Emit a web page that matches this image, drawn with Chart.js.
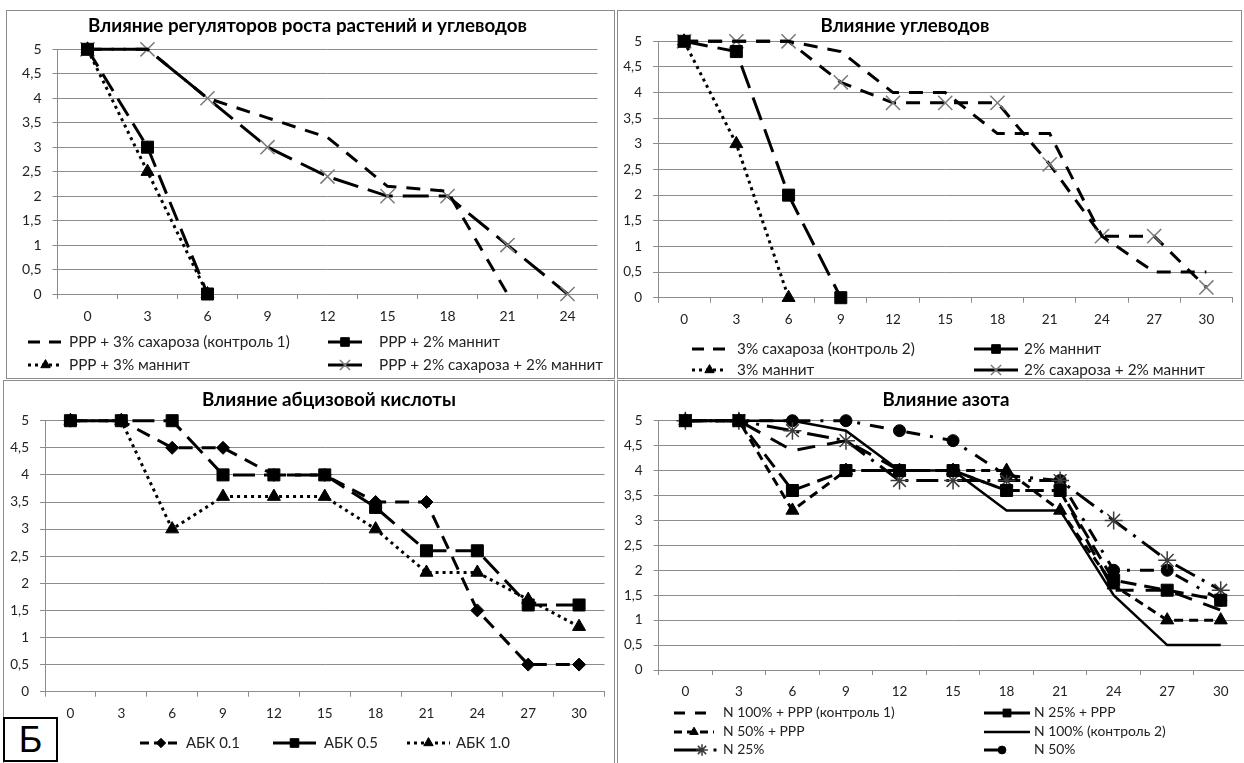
<!DOCTYPE html>
<html><head><meta charset="utf-8">
<script src="https://cdn.jsdelivr.net/npm/chart.js@4.4.1/dist/chart.umd.min.js"></script>
<style>
html,body{margin:0;padding:0;background:#fff;overflow:hidden;width:1244px;height:763px;position:relative;}
.frame{position:absolute;border:1px solid #8c8c8c;box-sizing:border-box;}
canvas{position:absolute;}
#bx{position:absolute;left:3px;top:717px;width:55px;height:45px;border:2px solid #000;box-sizing:border-box;background:#fff;
font:36px "Liberation Sans",Arial,sans-serif;line-height:41px;text-align:center;color:#000;}
</style></head><body>
<div class="frame" style="left:6px;top:10px;width:609px;height:369px"></div>
<div class="frame" style="left:617px;top:10px;width:625px;height:369px"></div>
<div class="frame" style="left:3px;top:380px;width:612px;height:390px"></div>
<div class="frame" style="left:617px;top:380px;width:640px;height:390px"></div>
<canvas id="c1" width="608" height="368" style="left:6px;top:10px"></canvas>
<canvas id="c2" width="626" height="368" style="left:618px;top:10px"></canvas>
<canvas id="c3" width="611" height="383" style="left:3px;top:380px"></canvas>
<canvas id="c4" width="640" height="383" style="left:618px;top:380px"></canvas>
<div id="bx">Б</div>
<script>
// ---------- DATA ----------
const days24 = ['0','3','6','9','12','15','18','21','24'];
const days30 = ['0','3','6','9','12','15','18','21','24','27','30'];

// Panel 1: Влияние регуляторов роста растений и углеводов
const p1Labels = ['PPP + 3% сахароза (контроль 1)','PPP + 2% маннит','PPP + 3% маннит','PPP + 2% сахароза + 2% маннит'];
const p1Sucrose3 = [5,5,4,3.6,3.2,2.2,2.1,0,null];
const p1Mannit2  = [5,3,0,null,null,null,null,null,null];
const p1Mannit3  = [5,2.5,0,null,null,null,null,null,null];
const p1SucMan   = [5,5,4,3,2.4,2,2,1,0];

// Panel 2: Влияние углеводов
const p2Labels = ['3% сахароза (контроль 2)','2% маннит','3% маннит','2% сахароза + 2% маннит'];
const p2Sucrose3 = [5,5,5,4.8,4,4,3.2,3.2,1.2,0.5,0.5];
const p2Mannit2  = [5,4.8,2,0,null,null,null,null,null,null,null];
const p2Mannit3  = [5,3,0,null,null,null,null,null,null,null,null];
const p2SucMan   = [5,5,5,4.2,3.8,3.8,3.8,2.6,1.2,1.2,0.2];

// Panel 3: Влияние абцизовой кислоты
const p3Labels = ['АБК 0.1','АБК 0.5','АБК 1.0'];
const abk01 = [5,5,4.5,4.5,4,4,3.5,3.5,1.5,0.5,0.5];
const abk05 = [5,5,5,4,4,4,3.4,2.6,2.6,1.6,1.6];
const abk10 = [5,5,3,3.6,3.6,3.6,3,2.2,2.2,1.7,1.2];

// Panel 4: Влияние азота
const p4Labels = ['N 100% + PPP (контроль 1)','N 25% + PPP','N 50% + PPP','N 100% (контроль 2)','N 25%','N 50%'];
const n100ppp = [5,5,4.4,4.6,4,4,3.6,3.6,1.6,1.6,1.2];
const n25ppp  = [5,5,3.6,4,4,4,3.6,3.6,1.8,1.6,1.4];
const n50ppp  = [5,5,3.2,4,4,4,4,3.2,1.7,1,1];
const n100    = [5,5,5,4.8,4,4,3.2,3.2,1.5,0.5,0.5];
const n25     = [5,5,4.8,4.6,3.8,3.8,3.8,3.8,3,2.2,1.6];
const n50     = [5,5,5,5,4.8,4.6,3.9,3.8,2,2,1.4];

const titles = ['Влияние регуляторов роста растений и углеводов','Влияние углеводов','Влияние абцизовой кислоты','Влияние азота'];

// ---------- STYLES ----------
const FAM = 'Lato, "Open Sans", sans-serif';
const SQ  = {pointStyle:'rect', pointRadius:8.5};
const TRI = {pointStyle:'triangle', pointRadius:7.5};
const XM  = {pointStyle:'crossRot', pointRadius:10, pointBorderColor:'#7a7a7a', pointBorderWidth:1.5};
const DIA = {pointStyle:'rectRot', pointRadius:6.5};
const CIR = {pointStyle:'circle', pointRadius:6};
const STAR= {pointStyle:'star', pointRadius:9, pointBorderColor:'#3a3a3a', pointBorderWidth:1.5};

function ds(label, data, dash, width, marker){
  return Object.assign({label, data, borderColor:'#000', backgroundColor:'#000', borderWidth:width,
    borderDash:dash, borderCapStyle:'butt', tension:0, fill:false, clip:false, spanGaps:false,
    pointRadius:0, pointHoverRadius:0, pointBackgroundColor:'#000', pointBorderColor:'#000', pointBorderWidth:1}, marker||{});
}

function fitSize(ctx, text, weight, target){
  ctx.font = weight+' 20px '+FAM;
  return 20*target/ctx.measureText(text).width;
}

function makeDecor(cfg){
  return {
    id:'decor',
    afterDraw(chart){
      const ctx = chart.ctx;
      ctx.save();
      const ts = fitSize(ctx, cfg.title, 'bold', cfg.titleW);
      ctx.font = 'bold '+ts.toFixed(2)+'px '+FAM;
      ctx.fillStyle = '#000'; ctx.textAlign='center'; ctx.textBaseline='middle';
      ctx.fillText(cfg.title, cfg.titleX, cfg.titleY);
      const ls = fitSize(ctx, cfg.legRef, 'normal', cfg.legRefW);
      const mk = cfg.mk || 0.72;
      cfg.items.forEach(it=>{
        const d = chart.data.datasets[it.ds];
        ctx.save();
        ctx.strokeStyle = d.borderColor; ctx.lineWidth = d.borderWidth; ctx.lineCap='butt';
        ctx.setLineDash(it.dash || d.borderDash || []);
        ctx.beginPath(); ctx.moveTo(it.x0, it.y); ctx.lineTo(it.x1, it.y); ctx.stroke();
        ctx.restore();
        if (d.pointRadius > 0){
          ctx.save();
          ctx.fillStyle = d.pointBackgroundColor; ctx.strokeStyle = d.pointBorderColor; ctx.lineWidth = d.pointBorderWidth;
          Chart.helpers.drawPoint(ctx, {pointStyle:d.pointStyle, radius:d.pointRadius*mk, rotation:0, borderWidth:d.pointBorderWidth}, it.mx || (it.x0+it.x1)/2, it.y);
          ctx.restore();
        }
        if (it.dot){ ctx.fillStyle='#000'; ctx.fillRect(it.dot-1.5, it.y-1.5, 3, 3); }
        ctx.font = ls.toFixed(2)+'px '+FAM;
        ctx.fillStyle = '#222'; ctx.textAlign='left'; ctx.textBaseline='middle';
        ctx.fillText(d.label, it.tx, it.y);
      });
      ctx.restore();
    }
  };
}

function makeChart(id, labels, datasets, area, tickSize, decor){
  const cv = document.getElementById(id);
  const W = cv.width, H = cv.height;
  return new Chart(cv, {
    type:'line',
    data:{labels, datasets},
    plugins:[makeDecor(decor)],
    options:{
      responsive:false, animation:false, devicePixelRatio:1,
      events:[],
      layout:{padding:{left:0, top:area.top, right:W-area.right, bottom:0}},
      plugins:{legend:{display:false}, title:{display:false}, tooltip:{enabled:false}},
      scales:{
        x:{type:'category', offset:true,
          grid:{display:true, drawOnChartArea:false, drawTicks:true, tickLength:5, offset:true, color:'#8c8c8c'},
          border:{display:true, color:'#8c8c8c', width:1},
          ticks:{font:{family:FAM, size:tickSize}, color:'#222', padding:area.xPad, maxRotation:0, autoSkip:false},
          afterFit(s){ s.height = H - area.bottom; }},
        y:{min:0, max:5,
          grid:{color:'#8c8c8c', lineWidth:1, tickLength:5, drawTicks:true},
          border:{display:true, color:'#8c8c8c', width:1},
          ticks:{stepSize:0.5, font:{family:FAM, size:tickSize}, color:'#222', padding:area.yPad,
            callback:v=>String(v).replace('.',',')},
          afterFit(s){ s.width = area.left; }}
      }
    }
  });
}

// Panel 1
makeChart('c1', days24, [
  ds(p1Labels[0], p1Sucrose3, [14,10], 3),
  ds(p1Labels[1], p1Mannit2, [20,9], 3, SQ),
  ds(p1Labels[2], p1Mannit3, [3,4], 3, TRI),
  ds(p1Labels[3], p1SucMan, [26,10], 3, XM)
], {left:51.5, right:591.5, top:39.3, bottom:284, xPad:9, yPad:11}, 14, {
  title:titles[0], titleW:439, titleX:301.5, titleY:16, legRef:p1Labels[3], legRefW:224,
  items:[
    {ds:0, x0:22, x1:57, y:332, tx:63, dash:[12,9]},
    {ds:1, x0:322, x1:356, y:332, tx:373, dash:[]},
    {ds:2, x0:22, x1:57, y:355, tx:63},
    {ds:3, x0:322, x1:356, y:355, tx:373, dash:[]}
  ]});

// Panel 2
makeChart('c2', days30, [
  ds(p2Labels[0], p2Sucrose3, [14,10], 3),
  ds(p2Labels[1], p2Mannit2, [24,10], 3, SQ),
  ds(p2Labels[2], p2Mannit3, [3,4], 3, TRI),
  ds(p2Labels[3], p2SucMan, [14,10], 3, XM)
], {left:40, right:615, top:31.3, bottom:287.7, xPad:9, yPad:11}, 13.5, {
  title:titles[1], titleW:169, titleX:287, titleY:16, legRef:p2Labels[3], legRefW:181,
  items:[
    {ds:0, x0:74, x1:109, y:339, tx:119, dash:[12,9]},
    {ds:1, x0:356, x1:400, y:339, tx:406, dash:[]},
    {ds:2, x0:74, x1:109, y:360, tx:119},
    {ds:3, x0:356, x1:400, y:360, tx:406, dash:[]}
  ]});

// Panel 3
makeChart('c3', days30, [
  ds(p3Labels[0], abk01, [14,9], 3, DIA),
  ds(p3Labels[1], abk05, [22,9], 3, SQ),
  ds(p3Labels[2], abk10, [3,4], 3, TRI)
], {left:42, right:607, top:40.7, bottom:311.7, xPad:9, yPad:11}, 13.5, {
  title:titles[2], titleW:254, titleX:326, titleY:20, legRef:p3Labels[2], legRefW:54,
  items:[
    {ds:0, x0:137, x1:179, y:363, tx:183, dash:[9,5]},
    {ds:1, x0:270, x1:313, y:363, tx:321, dash:[]},
    {ds:2, x0:404, x1:447, y:363, tx:453}
  ]});

// Panel 4
makeChart('c4', days30, [
  ds(p4Labels[0], n100ppp, [18,12], 3),
  ds(p4Labels[1], n25ppp, [16,8], 3, SQ),
  ds(p4Labels[2], n50ppp, [9,6], 3, TRI),
  ds(p4Labels[3], n100, [], 2.5),
  ds(p4Labels[4], n25, [22,8,3,8], 3, STAR),
  ds(p4Labels[5], n50, [14,10,3,10], 3, CIR)
], {left:40.6, right:630, top:40.7, bottom:290, xPad:9, yPad:11}, 13.5, {
  title:titles[3], titleW:127, titleX:328, titleY:20, legRef:p4Labels[0], legRefW:172, mk:0.65,
  items:[
    {ds:0, x0:56, x1:96, y:333, tx:105, dash:[11,10]},
    {ds:1, x0:366, x1:412, y:333, tx:416, dash:[]},
    {ds:2, x0:56, x1:96, y:352, tx:105, dash:[8,5]},
    {ds:3, x0:366, x1:412, y:352, tx:416, dash:[]},
    {ds:4, x0:56, x1:86, y:370, tx:105, dash:[], mx:84, dot:97},
    {ds:5, x0:366, x1:386, y:370, tx:416, dash:[], mx:384}
  ]});
</script>
</body></html>
